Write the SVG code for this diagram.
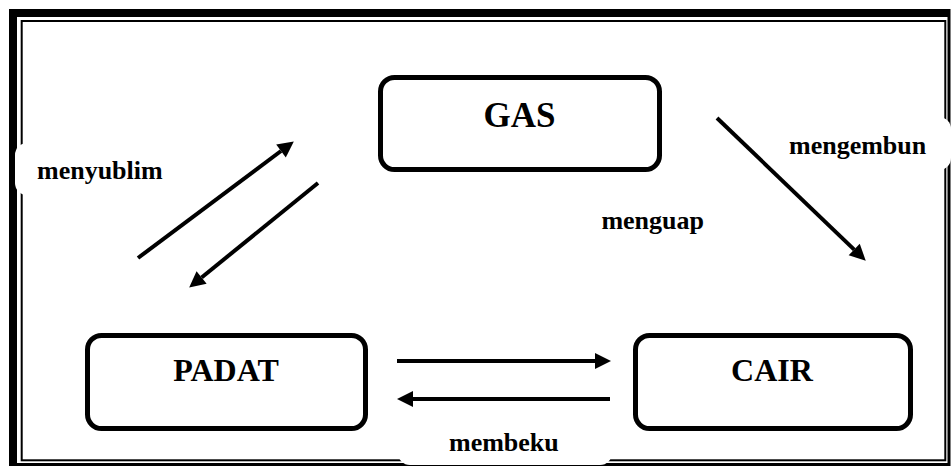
<svg xmlns="http://www.w3.org/2000/svg" width="951" height="468" viewBox="0 0 951 468">
  <style>
    .node { fill: #fff; stroke: #000; stroke-width: 5; }
    .ntext { font-family: "Liberation Serif", "Times New Roman", serif; font-weight: bold; fill: #000; text-anchor: middle; }
    .label { font-family: "Liberation Serif", "Times New Roman", serif; font-weight: bold; font-size: 26px; fill: #000; }
    .conn { stroke: #000; stroke-width: 4; fill: none; marker-end: url(#arrow); }
    .lblbg { fill: #fff; stroke: none; }
  </style>
  <defs>
    <marker id="arrow" markerUnits="userSpaceOnUse" markerWidth="16" markerHeight="16" refX="0" refY="8" orient="auto" overflow="visible">
      <path d="M0,0 L16,8 L0,16 Z" fill="#000"/>
    </marker>
  </defs>
  <rect x="0" y="0" width="951" height="468" fill="#fff"/>
  <g id="frame">
    <path d="M9,9 H950.5 V466 H9 Z M17,17 V463 H947.5 V17 Z" fill="#000" fill-rule="evenodd"/>
    <rect x="21.7" y="21" width="923.6" height="439.3" fill="none" stroke="#000" stroke-width="2"/>
  </g>
  <g id="connectors">
    <line class="conn" x1="138" y1="258" x2="281" y2="151"/>
    <line class="conn" x1="318" y1="183" x2="201.6" y2="277.5"/>
    <line class="conn" x1="717" y1="118" x2="854.2" y2="249.6"/>
    <line class="conn" x1="397" y1="361" x2="595" y2="361"/>
    <line class="conn" x1="610" y1="399" x2="413" y2="399"/>
  </g>
  <g id="gas">
    <rect class="node" x="380.5" y="77.5" width="279" height="92" rx="14"/>
    <text class="ntext" x="519.5" y="127" font-size="35">GAS</text>
  </g>
  <g id="padat">
    <rect class="node" x="87.5" y="335.5" width="278" height="93" rx="14"/>
    <text class="ntext" x="226" y="381" font-size="32">PADAT</text>
  </g>
  <g id="cair">
    <rect class="node" x="635.5" y="335.5" width="275" height="93" rx="14"/>
    <text class="ntext" x="772" y="381" font-size="32">CAIR</text>
  </g>
  <g id="label-menyublim">
    <rect class="lblbg" x="15" y="143" width="165" height="52" rx="12"/>
    <text class="label" x="37" y="179">menyublim</text>
  </g>
  <g id="label-mengembun">
    <rect class="lblbg" x="778" y="117" width="173" height="53" rx="12"/>
    <text class="label" x="789" y="154">mengembun</text>
  </g>
  <g id="label-menguap">
    <text class="label" x="704" y="229" text-anchor="end">menguap</text>
  </g>
  <g id="label-membeku">
    <rect class="lblbg" x="398" y="414" width="214" height="51" rx="12"/>
    <text class="label" x="449" y="451">membeku</text>
  </g>
</svg>
